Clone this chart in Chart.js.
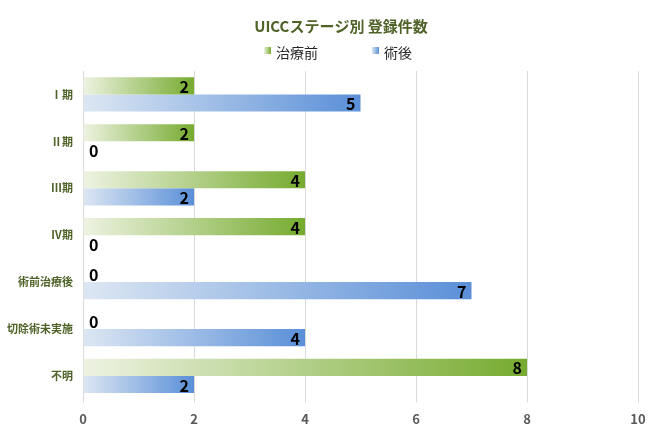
<!DOCTYPE html>
<html lang="ja">
<head>
  <meta charset="UTF-8">
  <title>UICCステージ別 登録件数</title>
  <script src="https://cdn.jsdelivr.net/npm/chart.js"></script>
  <style>
    html, body { margin: 0; padding: 0; background: #fff; }
    #wrap { width: 670px; height: 436px; }
  </style>
</head>
<body>
  <div id="wrap"><canvas id="stageChart"></canvas></div>
  <script>
    const title = 'UICCステージ別 登録件数';
    const stages = ['Ⅰ期', 'Ⅱ期', 'Ⅲ期', 'Ⅳ期', '術前治療後', '切除術未実施', '不明'];
    const beforeTreatment = [2, 2, 4, 4, 0, 0, 8];
    const afterSurgery = [5, 0, 2, 0, 7, 4, 2];
    const xTicks = [0, 2, 4, 6, 8, 10];

    const FONT = '"Noto Sans CJK JP", "Noto Sans", sans-serif';
    const GREEN = ['#eef3e2', '#76ab2f'];
    const BLUE = ['#dde7f3', '#5a8fd8'];

    // gradient runs from the zero line to the end of each bar
    function barGradient(colors) {
      return function(ctx) {
        const chart = ctx.chart;
        if (!chart.chartArea || ctx.raw === undefined) return colors[1];
        const x = chart.scales.x;
        const x0 = x.getPixelForValue(0);
        const x1 = Math.max(x.getPixelForValue(ctx.raw), x0 + 1);
        const g = chart.ctx.createLinearGradient(x0, 0, x1, 0);
        g.addColorStop(0, colors[0]);
        g.addColorStop(1, colors[1]);
        return g;
      };
    }

    const valueLabels = {
      id: 'valueLabels',
      afterDatasetsDraw(chart) {
        const ctx = chart.ctx;
        ctx.save();
        ctx.font = 'bold 16px ' + FONT;
        ctx.fillStyle = '#000';
        ctx.textBaseline = 'middle';
        chart.data.datasets.forEach((ds, i) => {
          chart.getDatasetMeta(i).data.forEach((bar, j) => {
            const v = ds.data[j];
            if (v === 0) {
              ctx.textAlign = 'left';
              ctx.fillText(String(v), bar.base + 6, bar.y + 1);
            } else {
              ctx.textAlign = 'right';
              ctx.fillText(String(v), bar.x - 5, bar.y + 1);
            }
          });
        });
        ctx.restore();
      }
    };

    // title and legend placed as in the original layout
    const header = {
      id: 'header',
      afterDraw(chart) {
        const ctx = chart.ctx;
        ctx.save();
        ctx.textBaseline = 'middle';
        ctx.font = 'bold 15px ' + FONT;
        ctx.fillStyle = '#4f6228';
        ctx.textAlign = 'center';
        ctx.fillText(title, 341, 26);

        const items = [
          { text: chart.data.datasets[0].label, colors: GREEN, x: 264 },
          { text: chart.data.datasets[1].label, colors: BLUE, x: 372 }
        ];
        ctx.font = '14px ' + FONT;
        ctx.textAlign = 'left';
        items.forEach(it => {
          const g = ctx.createLinearGradient(it.x, 0, it.x + 7, 0);
          g.addColorStop(0, it.colors[0]);
          g.addColorStop(1, it.colors[1]);
          ctx.fillStyle = g;
          ctx.fillRect(it.x, 47, 7, 7);
          ctx.fillStyle = '#262626';
          ctx.fillText(it.text, it.x + 12, 53);
        });
        ctx.restore();
      }
    };

    new Chart(document.getElementById('stageChart'), {
      type: 'bar',
      data: {
        labels: stages,
        datasets: [
          {
            label: '治療前',
            data: beforeTreatment,
            backgroundColor: barGradient(GREEN),
            categoryPercentage: 0.73,
            barPercentage: 1.0
          },
          {
            label: '術後',
            data: afterSurgery,
            backgroundColor: barGradient(BLUE),
            categoryPercentage: 0.73,
            barPercentage: 1.0
          }
        ]
      },
      options: {
        indexAxis: 'y',
        responsive: true,
        maintainAspectRatio: false,
        animation: false,
        layout: { padding: { left: 0, right: 32, top: 71, bottom: 0 } },
        plugins: {
          legend: { display: false },
          tooltip: { enabled: false },
          title: { display: false }
        },
        scales: {
          x: {
            min: 0,
            max: 10,
            afterBuildTicks(axis) {
              axis.ticks = xTicks.map(v => ({ value: v }));
            },
            grid: { color: '#d9d9d9', tickLength: 3 },
            border: { display: false },
            ticks: {
              color: '#595959',
              font: { family: FONT, size: 13, weight: 'bold' },
              padding: 9
            }
          },
          y: {
            afterFit(axis) { axis.width = 83; },
            grid: { display: false, drawTicks: false, tickLength: 0 },
            border: { display: false },
            ticks: {
              color: '#4f6228',
              font: { family: FONT, size: 11, weight: 'bold' },
              padding: 10
            }
          }
        }
      },
      plugins: [valueLabels, header]
    });
  </script>
</body>
</html>
